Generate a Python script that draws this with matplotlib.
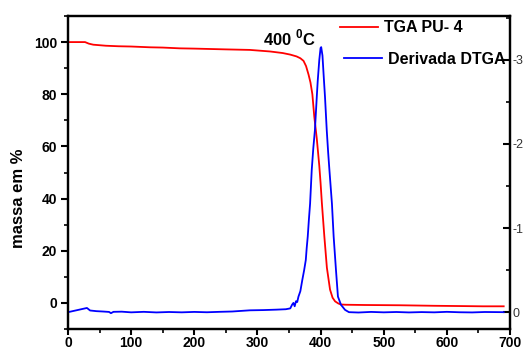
import matplotlib
matplotlib.use("Agg")
import matplotlib.pyplot as plt
from matplotlib.ticker import MultipleLocator

plt.rcParams["font.family"] = ["Liberation Sans", "DejaVu Sans"]
plt.rcParams["axes.unicode_minus"] = False
plt.rcParams["mathtext.fontset"] = "custom"
plt.rcParams["mathtext.bf"] = "Liberation Sans:bold"
plt.rcParams["mathtext.rm"] = "Liberation Sans"

# Thermogravimetric curve (mass %) vs temperature (°C)
temp_tga = [0, 27, 33, 40, 50, 60, 80, 100, 130, 150,
            177, 200, 250, 288, 320, 340, 352, 362, 368, 373,
            377, 381, 384, 387, 390, 394, 398, 400, 402, 406,
            410, 415, 419, 423, 428, 432, 440, 470, 526, 580,
            620, 657, 690]
mass = [100.0, 100.0, 99.4, 99.0, 98.8, 98.6, 98.4, 98.3, 98.0, 97.9,
        97.6, 97.5, 97.2, 97.0, 96.4, 95.8, 95.2, 94.5, 93.8, 92.8,
        90.8, 87.5, 84.5, 80.0, 71.5, 63.0, 52.5, 46.0, 38.5, 25.4,
        13.5, 5.1, 2.0, 0.6, -0.2, -0.6, -0.7, -0.8, -0.9, -1.1,
        -1.2, -1.3, -1.3]

# Derivative curve (DTGA)
temp_dtg = [0, 30, 35, 45, 55, 65, 68, 72, 85, 100,
            120, 140, 160, 180, 200, 220, 240, 260, 288, 310,
            330, 345, 352, 355, 357, 359, 361, 363, 365, 368,
            371, 374, 376.6, 378, 379.7, 381.5, 383.4, 386, 388.5, 391,
            394, 395.5, 398, 400, 401, 403, 405, 407, 409.8, 412,
            414, 418, 420.7, 424.4, 427.5, 432.4, 438.8, 445, 460, 480,
            500, 520, 540, 560, 580, 600, 620, 640, 660, 690]
dtg = [0.0, -0.05, -0.02, -0.012, -0.008, -0.003, 0.012, -0.004, -0.006, 0.002,
       -0.004, 0.003, -0.002, 0.002, -0.003, 0.001, -0.004, -0.008, -0.022, -0.025,
       -0.03, -0.035, -0.045, -0.09, -0.11, -0.07, -0.13, -0.12, -0.185, -0.25,
       -0.38, -0.5, -0.62, -0.76, -0.9, -1.1, -1.29, -1.69, -1.95, -2.16,
       -2.56, -2.75, -3.0, -3.14, -3.15, -3.05, -2.8, -2.56, -2.16, -1.9,
       -1.69, -1.29, -0.9, -0.5, -0.185, -0.087, -0.027, 0.0, 0.004, -0.003,
       0.002, -0.002, 0.003, -0.001, 0.002, -0.004, 0.001, 0.003, -0.002, 0.0]

fig = plt.figure(figsize=(5.23, 3.5), dpi=100)
ax = fig.add_axes([68 / 523, 21 / 350, 442 / 523, 313 / 350])
ax2 = ax.twinx()

l1, = ax.plot(temp_tga, mass, color="#ff0000", lw=1.3, label="TGA PU- 4")
l2, = ax2.plot(temp_dtg, dtg, color="#0000ff", lw=1.3, label="Derivada DTGA")

ax.set_xlim(0, 700)
ax.set_ylim(-10, 110)
ax2.set_ylim(0.2, -3.52)

ax.xaxis.set_major_locator(MultipleLocator(100))
ax.xaxis.set_minor_locator(MultipleLocator(50))
ax.yaxis.set_major_locator(MultipleLocator(20))
ax.yaxis.set_minor_locator(MultipleLocator(10))
ax2.yaxis.set_major_locator(MultipleLocator(1))
ax2.yaxis.set_minor_locator(MultipleLocator(0.5))

for a in (ax, ax2):
    for s in a.spines.values():
        s.set_linewidth(1.6)

ax.tick_params(which="major", direction="out", length=5, width=1.5,
               labelsize=10, pad=3)
ax.tick_params(axis="x", which="major", length=4, pad=0.8)
ax.tick_params(which="minor", direction="out", length=3, width=1.2)
ax.tick_params(top=False, right=False, which="both")
plt.setp(ax.get_xticklabels() + ax.get_yticklabels(), fontweight="bold")

ax2.tick_params(which="major", direction="in", length=5, width=1.5,
                labelsize=9, pad=2, labelcolor="#333333")
ax2.tick_params(which="minor", direction="in", length=3, width=1.2)

ax.set_ylabel("massa em %", fontsize=12, fontweight="bold")
ax.yaxis.set_label_coords(-0.094, 0.418)

ax.text(309, 98.6, r"400 $^\mathbf{0}$C", fontsize=12, fontweight="bold",
        va="baseline", ha="left")

leg_kw = dict(loc="center left", bbox_transform=fig.transFigure, frameon=False,
              borderpad=0, borderaxespad=0, handlelength=2.4,
              handletextpad=0.35, prop=dict(weight="bold", size=11.5))
leg1 = ax2.legend(handles=[l1], bbox_to_anchor=(340 / 523, 1 - 28 / 350), **leg_kw)
ax2.add_artist(leg1)
ax2.legend(handles=[l2], bbox_to_anchor=(344 / 523, 1 - 59 / 350), **leg_kw)

fig.savefig("out.png", dpi=100)
